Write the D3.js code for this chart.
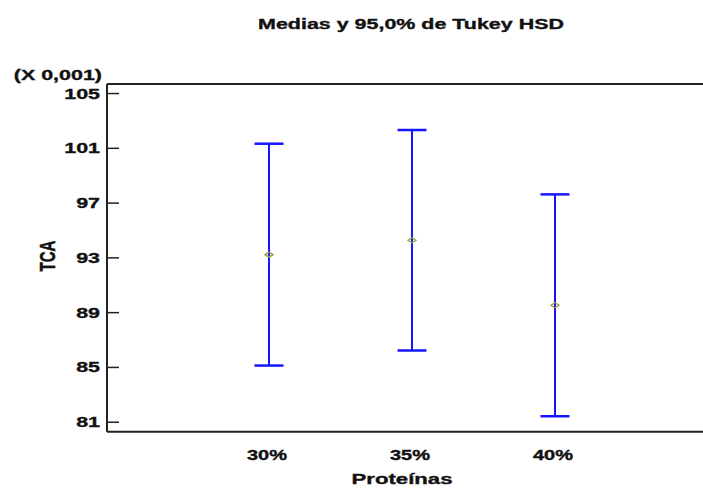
<!DOCTYPE html>
<html>
<head>
<meta charset="utf-8">
<script src="https://cdnjs.cloudflare.com/ajax/libs/d3/7.8.5/d3.min.js"></script>
<style>
  body { margin:0; background:#fff; }
  text { font-family: "Liberation Sans", Arial, sans-serif; font-weight:bold; fill:#111; stroke:#111; stroke-width:0.35px; }
</style>
</head>
<body>
<div id="chart-area"></div>
<script>
// data (TCA, units of 0.001)
var categories = ["30%", "35%", "40%"];
var means = [93.2, 94.25, 89.5];
var lower = [85.1, 86.2, 81.4];
var upper = [101.3, 102.3, 97.6];
var yTicks = [81, 85, 89, 93, 97, 101, 105];

var width = 703, height = 488;
var stretch = 1.43; // the source picture is wider than it is tall

var plot = {left:107, top:84, bottom:431.7, right:717};

var svg = d3.select("#chart-area").append("svg")
    .attr("width", width)
    .attr("height", height);

var x = d3.scalePoint()
    .domain(categories)
    .range([plot.left, plot.right])
    .padding(1.133);

var y = d3.scaleLinear()
    .domain([80.27, 105.66])
    .range([plot.bottom, plot.top]);

function label(txt, px, py, size, anchor, rot) {
  return svg.append("text")
    .attr("transform", "translate(" + px + "," + py + ") scale(" + stretch + ",1)" + (rot ? " rotate(" + rot + ")" : ""))
    .attr("text-anchor", anchor)
    .style("font-size", size + "px")
    .text(txt);
}

// title
label("Medias y 95,0% de Tukey HSD", 411, 29, 15, "middle");

// y axis with inward ticks
var yAxis = svg.append("g")
    .attr("transform", "translate(" + plot.left + ",0)")
    .call(d3.axisRight(y).tickValues(yTicks).tickSize(12).tickFormat(""));
yAxis.select(".domain").remove();
yAxis.selectAll(".tick line").attr("stroke", "#222").attr("stroke-width", 1.5);

yTicks.forEach(function(t) {
  label(t, 100, y(t) + 5.5, 15, "end");
});
label("(X 0,001)", 102, 80, 15, "end");
label("TCA", 55, 256, 15, "middle", -90);

// frame lines
svg.append("line")
    .attr("x1", plot.left).attr("x2", plot.left)
    .attr("y1", plot.top).attr("y2", plot.bottom)
    .attr("stroke", "#222").attr("stroke-width", 2);
[plot.top, plot.bottom].forEach(function(yy) {
  svg.append("line")
    .attr("x1", plot.left).attr("x2", width)
    .attr("y1", yy).attr("y2", yy)
    .attr("stroke", "#222").attr("stroke-width", 2);
});

// x labels
categories.forEach(function(c) {
  label(c, x(c) - 2, 460, 14, "middle");
});
label("Proteínas", 402, 484, 15.5, "middle");

// intervals
var capW = 14.5;
var g = svg.selectAll(".interval")
    .data(categories)
    .enter()
    .append("g")
    .attr("class", "interval");

g.append("line")
    .attr("x1", function(d) { return x(d); })
    .attr("x2", function(d) { return x(d); })
    .attr("y1", function(d, i) { return y(upper[i]); })
    .attr("y2", function(d, i) { return y(lower[i]); })
    .attr("stroke", "#1515ff").attr("stroke-width", 2);

g.append("line")
    .attr("x1", function(d) { return x(d) - capW; })
    .attr("x2", function(d) { return x(d) + capW; })
    .attr("y1", function(d, i) { return y(upper[i]); })
    .attr("y2", function(d, i) { return y(upper[i]); })
    .attr("stroke", "#1515ff").attr("stroke-width", 2.5);

g.append("line")
    .attr("x1", function(d) { return x(d) - capW; })
    .attr("x2", function(d) { return x(d) + capW; })
    .attr("y1", function(d, i) { return y(lower[i]); })
    .attr("y2", function(d, i) { return y(lower[i]); })
    .attr("stroke", "#1515ff").attr("stroke-width", 2.5);

// mean markers
g.append("path")
    .attr("d", function(d, i) {
      var cx = x(d), cy = y(means[i]);
      return "M" + (cx - 4) + "," + cy + "L" + cx + "," + (cy - 2.5) + "L" + (cx + 4) + "," + cy + "L" + cx + "," + (cy + 2.5) + "Z";
    })
    .attr("fill", "none")
    .attr("stroke", "#9a9a40")
    .attr("stroke-width", 1.3);
</script>
</body>
</html>
